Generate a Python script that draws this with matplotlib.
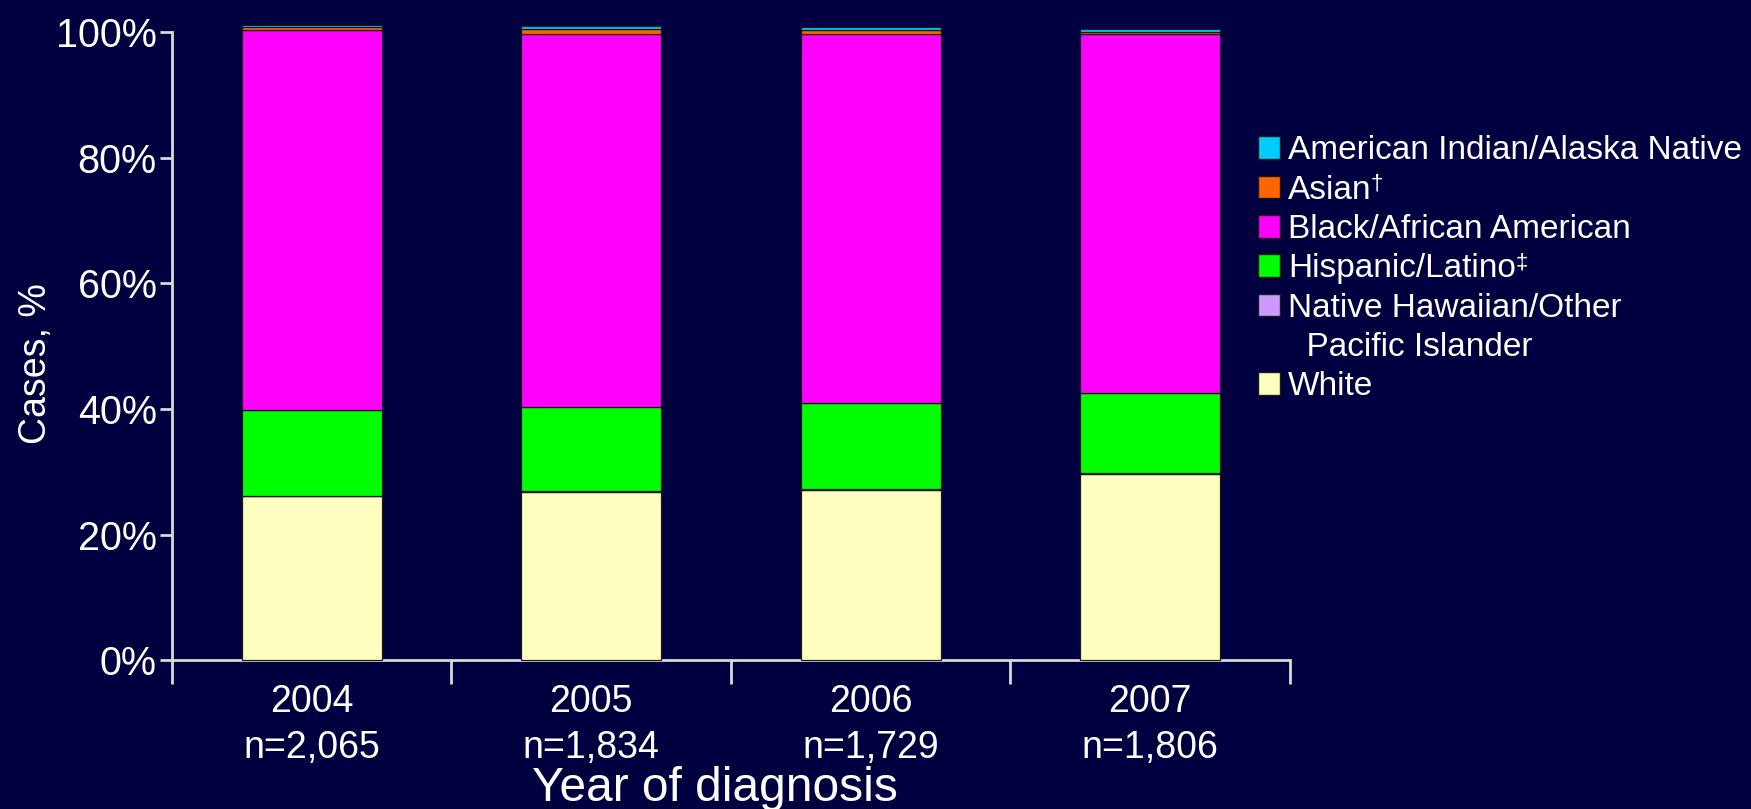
import matplotlib
matplotlib.use("Agg")
import matplotlib.pyplot as plt
from matplotlib.patches import Patch
import numpy as np

years = ["2004", "2005", "2006", "2007"]
n_labels = ["n=2,065", "n=1,834", "n=1,729", "n=1,806"]
groups = ["White", "Native Hawaiian/Other Pacific Islander", "Hispanic/Latino",
          "Black/African American", "Asian", "American Indian/Alaska Native"]
white = [26.1, 26.8, 27.1, 29.7]
nhopi = [0.1, 0.2, 0.1, 0.1]
hispanic = [13.7, 13.3, 13.8, 12.8]
black = [60.4, 59.5, 58.8, 57.2]
asian = [0.5, 0.7, 0.6, 0.2]
aian = [0.4, 0.5, 0.5, 0.6]
series = [white, nhopi, hispanic, black, asian, aian]
colors = ["#FFFFC0", "#CC99FF", "#00FF00", "#FF00FF", "#FF6600", "#00CCFF"]

bg = "#000040"
fg = "#FFFFFF"
plt.rcParams['font.family'] = ['Liberation Sans', 'DejaVu Sans']

fig = plt.figure(figsize=(17.51, 8.09), dpi=100, facecolor=bg)
ax = fig.add_axes([0.0982, 0.184, 0.6385, 0.776], facecolor=bg)

x = np.arange(len(years))
bottom = np.zeros(len(years))
for vals, c in zip(series, colors):
    ax.bar(x, vals, width=0.5, bottom=bottom, color=c, edgecolor="#1a1a1a",
           linewidth=0.9, clip_on=False, zorder=3)
    bottom += np.array(vals)

ax.set_xlim(-0.5, 3.5)
ax.set_ylim(0, 100)
ax.set_yticks([0, 20, 40, 60, 80, 100])
ax.set_yticklabels(["0%", "20%", "40%", "60%", "80%", "100%"])
ax.set_xticks(np.arange(-0.5, 4.0, 1.0))
ax.set_xticklabels([])
ax.set_xticks(x, minor=True)
ax.set_xticklabels([f"{y}\n{n}" for y, n in zip(years, n_labels)], minor=True)

for s in ["top", "right"]:
    ax.spines[s].set_visible(False)
for s in ["left", "bottom"]:
    ax.spines[s].set_color("#D8D8D8")
    ax.spines[s].set_linewidth(2)

ax.tick_params(axis="y", colors="#D8D8D8", labelcolor=fg, labelsize=28.5,
               length=9, width=2, pad=2)
ax.tick_params(axis="x", which="major", colors="#D8D8D8", length=17, width=2,
               direction="out")
ax.tick_params(axis="x", which="minor", length=0, labelcolor=fg, labelsize=27,
               pad=17)
for lab in ax.get_xticklabels(minor=True):
    lab.set_linespacing(1.38)

ax.set_ylabel("Cases, %", color=fg, fontsize=27, labelpad=1)
ax.yaxis.label.set_y(0.473)
ax.set_xlabel("Year of diagnosis", color=fg, fontsize=34.5, labelpad=0)
ax.xaxis.label.set_x(0.486)

handles = [
    Patch(facecolor="#00CCFF", edgecolor="#1a1a1a"),
    Patch(facecolor="#FF6600", edgecolor="#1a1a1a"),
    Patch(facecolor="#FF00FF", edgecolor="#1a1a1a"),
    Patch(facecolor="#00FF00", edgecolor="#1a1a1a"),
    Patch(facecolor="#CC99FF", edgecolor="#1a1a1a"),
    Patch(facecolor="none", edgecolor="none"),
    Patch(facecolor="#FFFFC0", edgecolor="#1a1a1a"),
]
labels = ["American Indian/Alaska Native", "Asian",
          "Black/African American", "Hispanic/Latino",
          "Native Hawaiian/Other", "  Pacific Islander", "White"]
leg = fig.legend(handles, labels, loc="upper left", bbox_to_anchor=(0.7106, 0.849),
                 frameon=False, fontsize=24, handlelength=0.67, handleheight=0.67,
                 handletextpad=0.25, labelspacing=0.25, borderaxespad=0)
for t in leg.get_texts():
    t.set_color(fg)

# superscript footnote marks after "Asian" and "Hispanic/Latino"
fig.canvas.draw()
renderer = fig.canvas.get_renderer()
inv = fig.transFigure.inverted()
for t, mark in [(leg.get_texts()[1], "\u2020"), (leg.get_texts()[3], "\u2021")]:
    bb = t.get_window_extent(renderer)
    x1, y1 = inv.transform((bb.x1 - 1, bb.y1 + 1))
    fig.text(x1, y1, mark, color=fg, fontsize=16, ha="left", va="top")

fig.savefig("out.png", dpi=100, facecolor=bg)
